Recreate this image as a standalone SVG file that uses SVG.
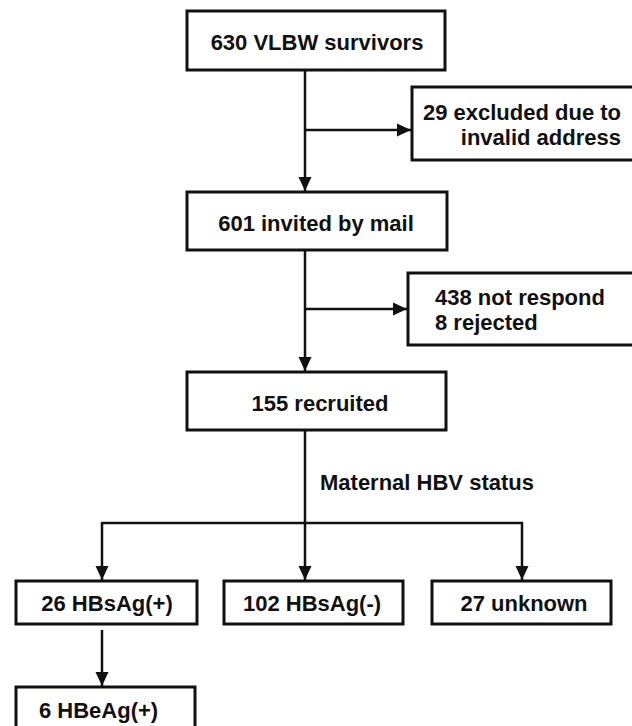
<svg xmlns="http://www.w3.org/2000/svg" width="632" height="726" viewBox="0 0 632 726">
<defs>
<style>
.box{fill:#fff;stroke:#111;stroke-width:3}
.t{font-family:"Liberation Sans",Arial,sans-serif;font-weight:bold;font-size:22px;fill:#111}
.c{text-anchor:middle}
.ln{fill:none;stroke:#111;stroke-width:2.5}
</style>
<marker id="ah" markerUnits="userSpaceOnUse" markerWidth="14" markerHeight="16" viewBox="0 0 14 16" refX="14" refY="8" orient="auto">
<path d="M0,1.5 L14,8 L0,14.5 Z" fill="#111"/>
</marker>
</defs>
<rect width="632" height="726" fill="#fff"/>
<g id="connectors">
<line class="ln" x1="305" y1="70" x2="305" y2="191" marker-end="url(#ah)"/>
<line class="ln" x1="305" y1="130" x2="411" y2="130" marker-end="url(#ah)"/>
<line class="ln" x1="305" y1="250" x2="305" y2="371" marker-end="url(#ah)"/>
<line class="ln" x1="305" y1="309" x2="407" y2="309" marker-end="url(#ah)"/>
<line class="ln" x1="305" y1="430" x2="305" y2="580" marker-end="url(#ah)"/>
<polyline class="ln" points="102,523 522,523 522,580" marker-end="url(#ah)"/>
<line class="ln" x1="102" y1="522" x2="102" y2="580" marker-end="url(#ah)"/>
<line class="ln" x1="102" y1="630" x2="102" y2="686" marker-end="url(#ah)"/>
<text class="t" x="320" y="490">Maternal HBV status</text>
</g>
<g id="n630">
<rect class="box" x="187" y="11" width="258" height="59"/>
<text class="t c" x="317" y="50">630 VLBW survivors</text>
</g>
<g id="nexcluded">
<rect class="box" x="412" y="87" width="230" height="73"/>
<text class="t" x="621" y="120" text-anchor="end">29 excluded due to</text>
<text class="t" x="621" y="145" text-anchor="end">invalid address</text>
</g>
<g id="n601">
<rect class="box" x="187" y="192" width="260" height="58"/>
<text class="t c" x="316" y="231">601 invited by mail</text>
</g>
<g id="nnotrespond">
<rect class="box" x="408" y="273" width="234" height="72"/>
<text class="t" x="435" y="305">438 not respond</text>
<text class="t" x="435" y="330">8 rejected</text>
</g>
<g id="n155">
<rect class="box" x="187" y="372" width="259" height="58"/>
<text class="t c" x="320" y="411">155 recruited</text>
</g>
<g id="nhbsagpos">
<rect class="box" x="16" y="581" width="181" height="43"/>
<text class="t c" x="107" y="611">26 HBsAg(+)</text>
</g>
<g id="nhbsagneg">
<rect class="box" x="224" y="581" width="179" height="43"/>
<text class="t c" x="312" y="611">102 HBsAg(-)</text>
</g>
<g id="nunknown">
<rect class="box" x="432" y="581" width="179" height="43"/>
<text class="t c" x="524" y="611">27 unknown</text>
</g>
<g id="nhbeag">
<rect class="box" x="16" y="687" width="179" height="50"/>
<text class="t" x="39" y="718">6 HBeAg(+)</text>
</g>
</svg>
